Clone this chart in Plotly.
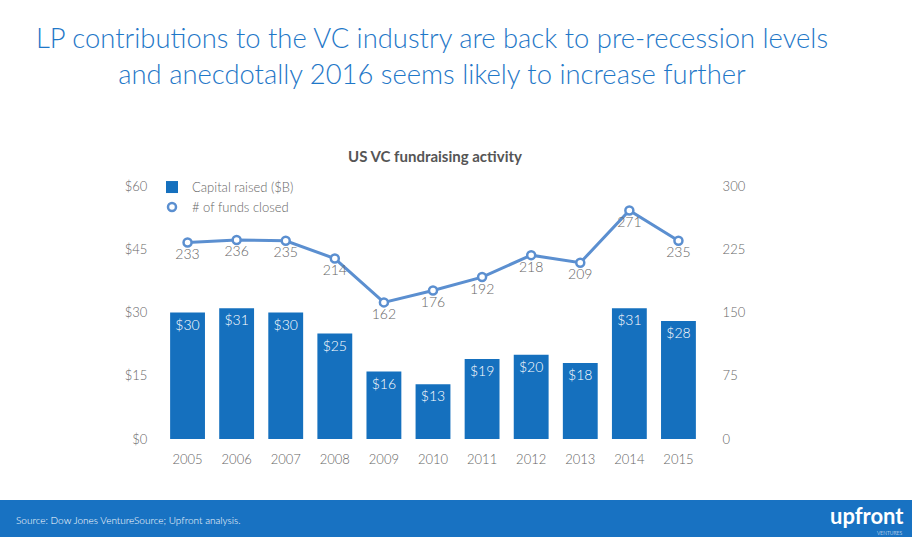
import plotly.graph_objects as go

# Data
years = ["2005", "2006", "2007", "2008", "2009", "2010", "2011", "2012", "2013", "2014", "2015"]
capital = [30, 31, 30, 25, 16, 13, 19, 20, 18, 31, 28]
funds = [233, 236, 235, 214, 162, 176, 192, 218, 209, 271, 235]
left_ticks = [0, 15, 30, 45, 60]
right_ticks = [0, 75, 150, 225, 300]

W, H = 912, 537
ML, MR, MT, MB = 143, 209, 186, 98
PW, PH = W - ML - MR, H - MT - MB
X0 = 163  # left edge of the bars area

def px_x(x):
    return (x - ML) / PW

def px_y(y):
    return (H - MB - y) / PH

BAR = "#1570be"
LINE = "#5b8fd0"
GREY = "#666666"
FONT = "Lato"

fig = go.Figure()

fig.add_trace(go.Bar(
    x=years, y=capital, name="Capital raised ($B)",
    marker=dict(color=BAR, line=dict(width=0)),
    text=[f"${v}" for v in capital], textposition="inside",
    insidetextanchor="end", textangle=0, constraintext="none",
    textfont=dict(color="white", size=14, family=FONT, weight=300),
))

fig.add_trace(go.Scatter(
    x=years, y=funds, name="# of funds closed", yaxis="y2",
    mode="lines+markers+text", showlegend=False,
    line=dict(color=LINE, width=3),
    marker=dict(size=8, color="white", line=dict(color=LINE, width=2.5)),
    text=[str(v) for v in funds], textposition="bottom center",
    textfont=dict(color=GREY, size=14, family=FONT, weight=300),
))

# legend entry for the line: marker only
fig.add_trace(go.Scatter(
    x=[years[0]], y=[None], name="# of funds closed", yaxis="y2",
    mode="markers",
    marker=dict(size=8, color="white", line=dict(color=LINE, width=2.5)),
))

fig.update_layout(
    width=W, height=H,
    margin=dict(l=ML, r=MR, t=MT, b=MB, autoexpand=False),
    paper_bgcolor="white", plot_bgcolor="white",
    font=dict(family=FONT, color=GREY, size=13, weight=300),
    bargap=0.29,
    showlegend=True,
    legend=dict(x=px_x(152), y=1.055, xanchor="left", yanchor="top",
                bgcolor="rgba(0,0,0,0)", font=dict(size=13, color=GREY, weight=300),
                itemwidth=30, tracegroupgap=0),
    xaxis=dict(type="category", domain=[px_x(X0), 1], range=[-0.5, len(years) - 0.5],
               showgrid=False, showline=False, zeroline=False,
               ticks="outside", ticklen=8, tickcolor="rgba(0,0,0,0)"),
    yaxis=dict(range=[0, 60], tickvals=left_ticks,
               ticktext=[f"${v}" for v in left_ticks],
               showgrid=False, zeroline=False, showline=False,
               ticks="outside", ticklen=12, tickcolor="rgba(0,0,0,0)"),
    yaxis2=dict(range=[0, 300], tickvals=right_ticks, overlaying="y", side="right",
                showgrid=False, zeroline=False, showline=False,
                ticks="outside", ticklen=16, tickcolor="rgba(0,0,0,0)"),
)

# bottom band
fig.add_shape(type="rect", xref="paper", yref="paper",
              x0=px_x(0), x1=px_x(W), y0=px_y(H), y1=px_y(500),
              fillcolor="#1872c2", line=dict(width=0), layer="below")

fig.add_annotation(
    xref="paper", yref="paper", x=px_x(432), y=px_y(55), xanchor="center", yanchor="middle",
    text="LP contributions to the VC industry are back to pre-recession levels<br>"
         "and anecdotally 2016 seems likely to increase further",
    showarrow=False, font=dict(size=27.4, color="#1f78c8", family=FONT, weight=300),
)
fig.add_annotation(
    xref="paper", yref="paper", x=px_x(435), y=px_y(156), xanchor="center", yanchor="middle",
    text="<b>US VC fundraising activity</b>", showarrow=False,
    font=dict(size=15, color="#555555", family=FONT),
)
fig.add_annotation(
    xref="paper", yref="paper", x=px_x(14), y=px_y(520), xanchor="left", yanchor="middle",
    text="Source: Dow Jones VentureSource; Upfront analysis.", showarrow=False,
    font=dict(size=10, color="white", family=FONT),
)
fig.add_annotation(
    xref="paper", yref="paper", x=px_x(906), y=px_y(515), xanchor="right", yanchor="middle",
    text="<b>upfront</b>", showarrow=False,
    font=dict(size=22, color="white", family=FONT),
)
fig.add_annotation(
    xref="paper", yref="paper", x=px_x(904), y=px_y(533), xanchor="right", yanchor="middle",
    text="VENTURES", showarrow=False,
    font=dict(size=5, color="white", family=FONT),
)

fig.write_html("out.html", config={"displayModeBar": False},
               post_script="document.body.style.margin='0';")
